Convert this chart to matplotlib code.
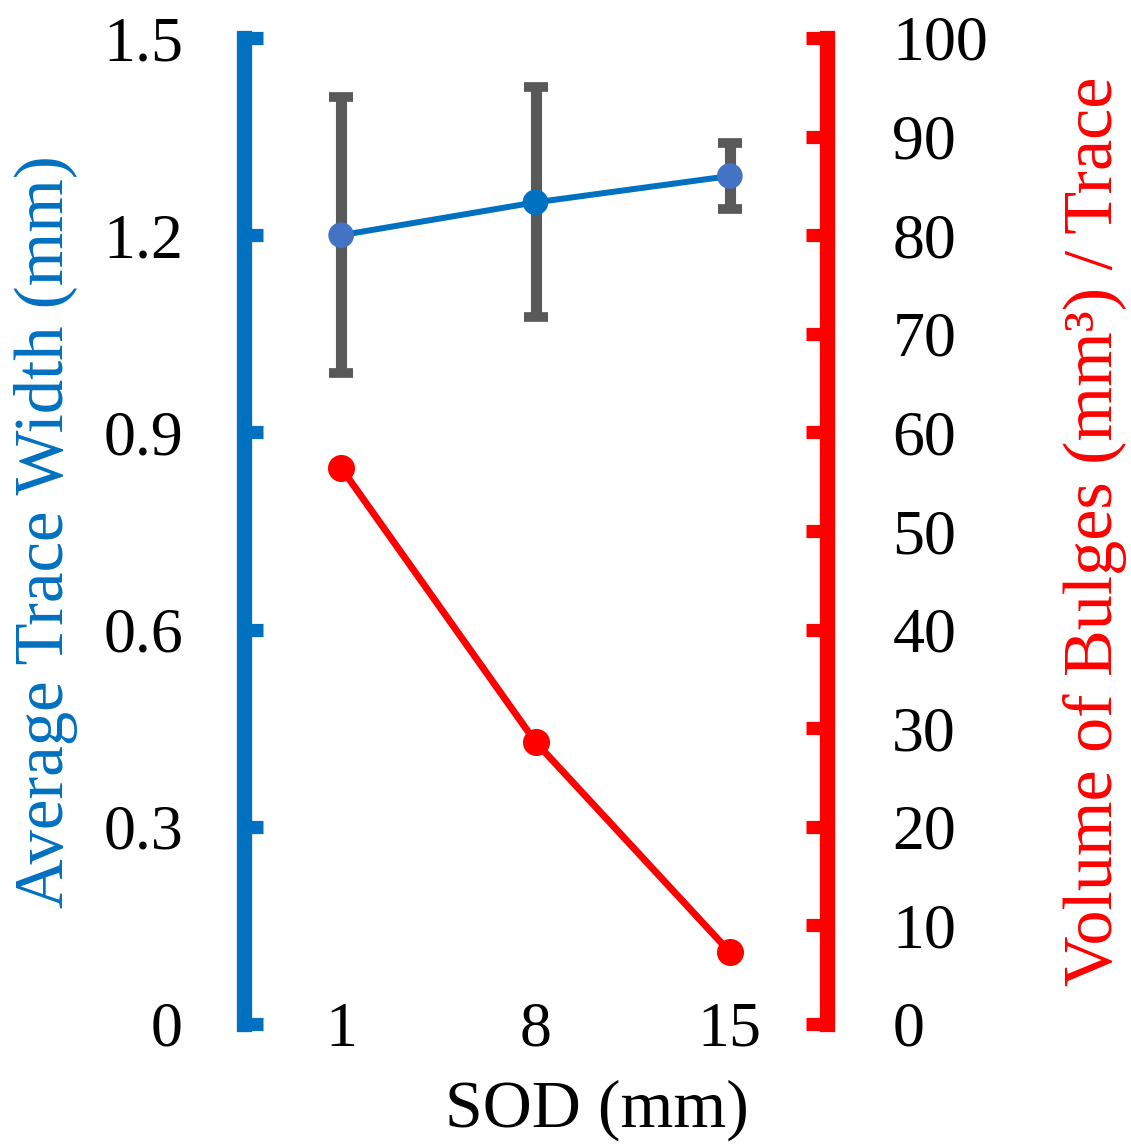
import matplotlib
matplotlib.use('Agg')
import matplotlib.pyplot as plt

plt.rcParams['font.family'] = ['Liberation Serif', 'DejaVu Serif']

# ---- data ----
sod_labels = ['1', '8', '15']
trace_width = [1.20, 1.25, 1.29]
trace_width_err = [0.21, 0.175, 0.05]
bulge_volume = [56.4, 28.6, 7.3]
left_ticks = [0, 0.3, 0.6, 0.9, 1.2, 1.5]
left_ticklabels = ['0', '0.3', '0.6', '0.9', '1.2', '1.5']
right_ticks = [0, 10, 20, 30, 40, 50, 60, 70, 80, 90, 100]

BLUE = '#0070C0'
MARK_BLUE = ['#4472C4', '#0070C0', '#4472C4']
RED = '#FF0000'
GRAY = '#595959'

W, H = 1131, 1147
fig = plt.figure(figsize=(W / 100, H / 100), dpi=100)
ax = fig.add_axes([244 / W, 1 - 1024 / H, (827 - 244) / W, (1024 - 38) / H])
ax2 = ax.twinx()

x = list(range(len(sod_labels)))

ax.errorbar(x, trace_width, yerr=trace_width_err, fmt='none', ecolor=GRAY,
            elinewidth=8, capsize=8.5, capthick=7, zorder=2)
ax.plot(x, trace_width, color=BLUE, lw=4.3, zorder=3)
ax.scatter(x, trace_width, s=18.5 ** 2, c=MARK_BLUE, zorder=4, linewidths=0)

ax2.plot(x, bulge_volume, color=RED, lw=5, marker='o', markersize=19.5,
         markeredgewidth=0, zorder=3)

ax.set_xlim(-0.5, 2.5)
ax.set_ylim(0, 1.5)
ax2.set_ylim(0, 100)

for s in ['top', 'bottom', 'right']:
    ax.spines[s].set_visible(False)
for s in ['top', 'bottom', 'left']:
    ax2.spines[s].set_visible(False)
ax.spines['left'].set_color(BLUE)
ax.spines['left'].set_linewidth(11)
ax2.spines['right'].set_color(RED)
ax2.spines['right'].set_linewidth(11)

ax.set_yticks(left_ticks)
ax.set_yticklabels(left_ticklabels)
ax.tick_params(axis='y', direction='in', length=14, width=9.5, color=BLUE,
               pad=44, labelsize=46, labelcolor='black')
ax2.set_yticks(right_ticks)
ax2.tick_params(axis='y', direction='in', length=15, width=9.5, color=RED,
                pad=47, labelsize=46, labelcolor='black')

ax.set_xticks(x)
ax.set_xticklabels(sod_labels)
ax.tick_params(axis='x', length=0, pad=-16, labelsize=46)

fig.text(597 / W, 1 - 1127 / H, 'SOD (mm)', ha='center', va='baseline',
         fontsize=49, color='black')
fig.text(63 / W, 1 - 532 / H, 'Average Trace Width (mm)', rotation=90,
         rotation_mode='anchor', ha='center', va='baseline', fontsize=49.5,
         color=BLUE)
fig.text(1112 / W, 1 - 531 / H, 'Volume of Bulges (mm\u00b3) / Trace', rotation=90,
         rotation_mode='anchor', ha='center', va='baseline', fontsize=50.5,
         color=RED)

fig.savefig('out.png', dpi=100)
